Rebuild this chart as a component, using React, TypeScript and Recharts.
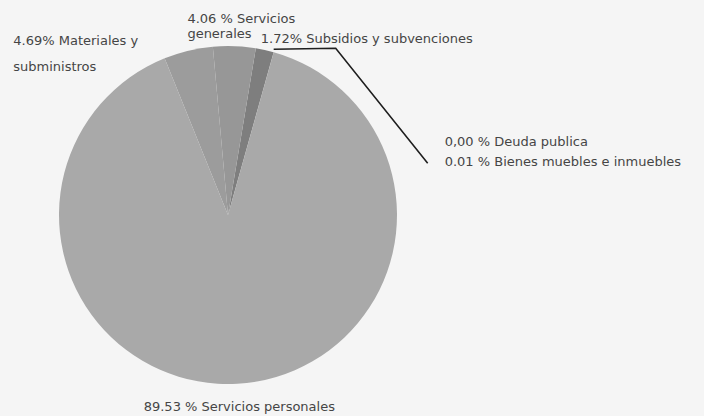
import { PieChart, Pie, Cell } from "recharts";

// Shares of spending by chapter (percent), counter-clockwise from the leader line
const names = [
  "Bienes muebles e inmuebles",
  "Deuda publica",
  "Subsidios y subvenciones",
  "Servicios generales",
  "Materiales y subministros",
  "Servicios personales",
];
const values = [0.01, 0.0, 1.72, 4.06, 4.69, 89.53];

// Label text as printed on the original (line by line)
const labelLines = [
  ["0.01 % Bienes muebles e inmuebles"],
  ["0,00 % Deuda publica"],
  ["1.72% Subsidios y subvenciones"],
  ["4.06 % Servicios", "generales"],
  ["4.69% Materiales y", "subministros"],
  ["89.53 % Servicios personales"],
];

const COLORS = ["#8a8a8a", "#8a8a8a", "#7e7e7e", "#979797", "#9c9c9c", "#a9a9a9"];

const data = names.map((name, i) => ({ name, value: values[i] }));

const RAD = Math.PI / 180;

const renderLabel = (props) => {
  const { cx, cy, midAngle, outerRadius, index } = props;
  const x0 = cx + outerRadius * Math.cos(-midAngle * RAD);
  const y0 = cy + outerRadius * Math.sin(-midAngle * RAD);
  const lines = labelLines[index];
  const textStyle = { fontSize: 13, fill: "#454545", fontFamily: "DejaVu Sans" };

  let dx = 0;
  let dy = 0;
  let lineGap = 12;
  let anchor = "start";
  let leader = null;

  if (index === 0) {
    dx = 171;
    dy = 114;
    leader = (
      <path
        d={`M${x0},${y0 - 3} L${x0 + 62},${y0 - 4} L${x0 + 154},${y0 + 111}`}
        stroke="#1e1e1e"
        strokeWidth={1.6}
        fill="none"
      />
    );
  } else if (index === 1) {
    dx = 171;
    dy = 94;
  } else if (index === 2) {
    dx = -4;
    dy = -7;
  } else if (index === 3) {
    dx = -47;
    dy = -23;
    lineGap = 15;
  } else if (index === 4) {
    dx = -175;
    dy = -6;
    lineGap = 26;
  } else {
    dx = 2;
    dy = 27;
    anchor = "middle";
  }

  return (
    <g key={`label-${index}`}>
      {leader}
      <text x={x0 + dx} y={y0 + dy} textAnchor={anchor} style={textStyle}>
        {lines.map((line, i) => (
          <tspan key={i} x={x0 + dx} dy={i === 0 ? 0 : lineGap}>
            {line}
          </tspan>
        ))}
      </text>
    </g>
  );
};

const App = () => (
  <div
    style={{
      position: "absolute",
      left: 0,
      top: 0,
      width: 704,
      height: 416,
      background: "#f5f5f5",
    }}
  >
    <PieChart width={704} height={416} margin={{ top: 0, right: 0, bottom: 0, left: 0 }}>
      <Pie
        data={data}
        dataKey="value"
        nameKey="name"
        cx={228}
        cy={215}
        outerRadius={169}
        startAngle={74.3}
        endAngle={434.3}
        stroke="none"
        labelLine={false}
        label={renderLabel}
        isAnimationActive={false}
      >
        {data.map((entry, index) => (
          <Cell key={`cell-${index}`} fill={COLORS[index]} />
        ))}
      </Pie>
    </PieChart>
  </div>
);

export default App;
